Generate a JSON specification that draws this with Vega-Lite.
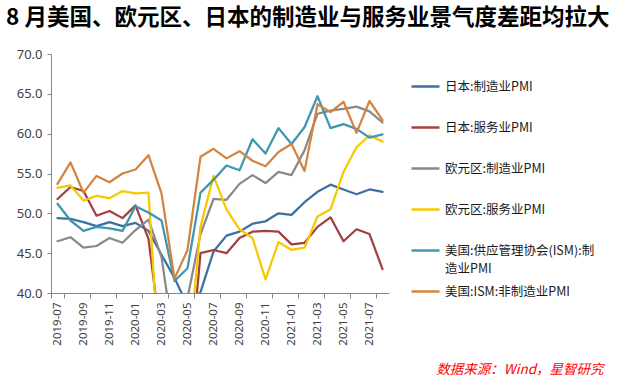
{
  "$schema": "https://vega.github.io/schema/vega-lite/v6.json",
  "width": 338,
  "height": 239,
  "autosize": {"type": "none"},
  "padding": {"left": 51, "top": 54, "right": 228, "bottom": 88},
  "background": "white",
  "title": {
    "text": "8 月美国、欧元区、日本的制造业与服务业景气度差距均拉大",
    "anchor": "start",
    "frame": "group",
    "dx": -45,
    "offset": 19,
    "font": "Noto Sans CJK SC",
    "fontSize": 22.5,
    "fontWeight": "bold",
    "color": "#000000"
  },
  "config": {"view": {"stroke": null}, "font": "Noto Sans CJK SC"},
  "data": {
    "values": [
      {"month": "2019-07", "series": "日本:制造业PMI", "value": 49.4},
      {"month": "2019-08", "series": "日本:制造业PMI", "value": 49.3},
      {"month": "2019-09", "series": "日本:制造业PMI", "value": 48.9},
      {"month": "2019-10", "series": "日本:制造业PMI", "value": 48.4},
      {"month": "2019-11", "series": "日本:制造业PMI", "value": 48.9},
      {"month": "2019-12", "series": "日本:制造业PMI", "value": 48.4},
      {"month": "2020-01", "series": "日本:制造业PMI", "value": 48.8},
      {"month": "2020-02", "series": "日本:制造业PMI", "value": 47.8},
      {"month": "2020-03", "series": "日本:制造业PMI", "value": 44.8},
      {"month": "2020-04", "series": "日本:制造业PMI", "value": 41.9},
      {"month": "2020-05", "series": "日本:制造业PMI", "value": 38.4},
      {"month": "2020-06", "series": "日本:制造业PMI", "value": 40.1},
      {"month": "2020-07", "series": "日本:制造业PMI", "value": 45.2},
      {"month": "2020-08", "series": "日本:制造业PMI", "value": 47.2},
      {"month": "2020-09", "series": "日本:制造业PMI", "value": 47.7},
      {"month": "2020-10", "series": "日本:制造业PMI", "value": 48.7},
      {"month": "2020-11", "series": "日本:制造业PMI", "value": 49.0},
      {"month": "2020-12", "series": "日本:制造业PMI", "value": 50.0},
      {"month": "2021-01", "series": "日本:制造业PMI", "value": 49.8},
      {"month": "2021-02", "series": "日本:制造业PMI", "value": 51.4},
      {"month": "2021-03", "series": "日本:制造业PMI", "value": 52.7},
      {"month": "2021-04", "series": "日本:制造业PMI", "value": 53.6},
      {"month": "2021-05", "series": "日本:制造业PMI", "value": 53.0},
      {"month": "2021-06", "series": "日本:制造业PMI", "value": 52.4},
      {"month": "2021-07", "series": "日本:制造业PMI", "value": 53.0},
      {"month": "2021-08", "series": "日本:制造业PMI", "value": 52.7},

      {"month": "2019-07", "series": "日本:服务业PMI", "value": 51.8},
      {"month": "2019-08", "series": "日本:服务业PMI", "value": 53.3},
      {"month": "2019-09", "series": "日本:服务业PMI", "value": 52.8},
      {"month": "2019-10", "series": "日本:服务业PMI", "value": 49.7},
      {"month": "2019-11", "series": "日本:服务业PMI", "value": 50.3},
      {"month": "2019-12", "series": "日本:服务业PMI", "value": 49.4},
      {"month": "2020-01", "series": "日本:服务业PMI", "value": 51.0},
      {"month": "2020-02", "series": "日本:服务业PMI", "value": 46.8},
      {"month": "2020-03", "series": "日本:服务业PMI", "value": 33.8},
      {"month": "2020-04", "series": "日本:服务业PMI", "value": 21.5},
      {"month": "2020-05", "series": "日本:服务业PMI", "value": 26.5},
      {"month": "2020-06", "series": "日本:服务业PMI", "value": 45.0},
      {"month": "2020-07", "series": "日本:服务业PMI", "value": 45.4},
      {"month": "2020-08", "series": "日本:服务业PMI", "value": 45.0},
      {"month": "2020-09", "series": "日本:服务业PMI", "value": 46.9},
      {"month": "2020-10", "series": "日本:服务业PMI", "value": 47.7},
      {"month": "2020-11", "series": "日本:服务业PMI", "value": 47.8},
      {"month": "2020-12", "series": "日本:服务业PMI", "value": 47.7},
      {"month": "2021-01", "series": "日本:服务业PMI", "value": 46.1},
      {"month": "2021-02", "series": "日本:服务业PMI", "value": 46.3},
      {"month": "2021-03", "series": "日本:服务业PMI", "value": 48.3},
      {"month": "2021-04", "series": "日本:服务业PMI", "value": 49.5},
      {"month": "2021-05", "series": "日本:服务业PMI", "value": 46.5},
      {"month": "2021-06", "series": "日本:服务业PMI", "value": 48.0},
      {"month": "2021-07", "series": "日本:服务业PMI", "value": 47.4},
      {"month": "2021-08", "series": "日本:服务业PMI", "value": 43.0},

      {"month": "2019-07", "series": "欧元区:制造业PMI", "value": 46.5},
      {"month": "2019-08", "series": "欧元区:制造业PMI", "value": 47.0},
      {"month": "2019-09", "series": "欧元区:制造业PMI", "value": 45.7},
      {"month": "2019-10", "series": "欧元区:制造业PMI", "value": 45.9},
      {"month": "2019-11", "series": "欧元区:制造业PMI", "value": 46.9},
      {"month": "2019-12", "series": "欧元区:制造业PMI", "value": 46.3},
      {"month": "2020-01", "series": "欧元区:制造业PMI", "value": 47.9},
      {"month": "2020-02", "series": "欧元区:制造业PMI", "value": 49.2},
      {"month": "2020-03", "series": "欧元区:制造业PMI", "value": 44.5},
      {"month": "2020-04", "series": "欧元区:制造业PMI", "value": 33.4},
      {"month": "2020-05", "series": "欧元区:制造业PMI", "value": 39.4},
      {"month": "2020-06", "series": "欧元区:制造业PMI", "value": 47.4},
      {"month": "2020-07", "series": "欧元区:制造业PMI", "value": 51.8},
      {"month": "2020-08", "series": "欧元区:制造业PMI", "value": 51.7},
      {"month": "2020-09", "series": "欧元区:制造业PMI", "value": 53.7},
      {"month": "2020-10", "series": "欧元区:制造业PMI", "value": 54.8},
      {"month": "2020-11", "series": "欧元区:制造业PMI", "value": 53.8},
      {"month": "2020-12", "series": "欧元区:制造业PMI", "value": 55.2},
      {"month": "2021-01", "series": "欧元区:制造业PMI", "value": 54.8},
      {"month": "2021-02", "series": "欧元区:制造业PMI", "value": 57.9},
      {"month": "2021-03", "series": "欧元区:制造业PMI", "value": 62.5},
      {"month": "2021-04", "series": "欧元区:制造业PMI", "value": 62.9},
      {"month": "2021-05", "series": "欧元区:制造业PMI", "value": 63.1},
      {"month": "2021-06", "series": "欧元区:制造业PMI", "value": 63.4},
      {"month": "2021-07", "series": "欧元区:制造业PMI", "value": 62.8},
      {"month": "2021-08", "series": "欧元区:制造业PMI", "value": 61.4},

      {"month": "2019-07", "series": "欧元区:服务业PMI", "value": 53.2},
      {"month": "2019-08", "series": "欧元区:服务业PMI", "value": 53.5},
      {"month": "2019-09", "series": "欧元区:服务业PMI", "value": 51.6},
      {"month": "2019-10", "series": "欧元区:服务业PMI", "value": 52.2},
      {"month": "2019-11", "series": "欧元区:服务业PMI", "value": 51.9},
      {"month": "2019-12", "series": "欧元区:服务业PMI", "value": 52.8},
      {"month": "2020-01", "series": "欧元区:服务业PMI", "value": 52.5},
      {"month": "2020-02", "series": "欧元区:服务业PMI", "value": 52.6},
      {"month": "2020-03", "series": "欧元区:服务业PMI", "value": 26.4},
      {"month": "2020-04", "series": "欧元区:服务业PMI", "value": 12.0},
      {"month": "2020-05", "series": "欧元区:服务业PMI", "value": 30.5},
      {"month": "2020-06", "series": "欧元区:服务业PMI", "value": 48.3},
      {"month": "2020-07", "series": "欧元区:服务业PMI", "value": 54.7},
      {"month": "2020-08", "series": "欧元区:服务业PMI", "value": 50.5},
      {"month": "2020-09", "series": "欧元区:服务业PMI", "value": 48.0},
      {"month": "2020-10", "series": "欧元区:服务业PMI", "value": 46.9},
      {"month": "2020-11", "series": "欧元区:服务业PMI", "value": 41.7},
      {"month": "2020-12", "series": "欧元区:服务业PMI", "value": 46.4},
      {"month": "2021-01", "series": "欧元区:服务业PMI", "value": 45.4},
      {"month": "2021-02", "series": "欧元区:服务业PMI", "value": 45.7},
      {"month": "2021-03", "series": "欧元区:服务业PMI", "value": 49.6},
      {"month": "2021-04", "series": "欧元区:服务业PMI", "value": 50.5},
      {"month": "2021-05", "series": "欧元区:服务业PMI", "value": 55.2},
      {"month": "2021-06", "series": "欧元区:服务业PMI", "value": 58.3},
      {"month": "2021-07", "series": "欧元区:服务业PMI", "value": 59.8},
      {"month": "2021-08", "series": "欧元区:服务业PMI", "value": 59.0},

      {"month": "2019-07", "series": "美国:供应管理协会(ISM):制造业PMI", "value": 51.2},
      {"month": "2019-08", "series": "美国:供应管理协会(ISM):制造业PMI", "value": 49.1},
      {"month": "2019-09", "series": "美国:供应管理协会(ISM):制造业PMI", "value": 47.8},
      {"month": "2019-10", "series": "美国:供应管理协会(ISM):制造业PMI", "value": 48.3},
      {"month": "2019-11", "series": "美国:供应管理协会(ISM):制造业PMI", "value": 48.1},
      {"month": "2019-12", "series": "美国:供应管理协会(ISM):制造业PMI", "value": 47.8},
      {"month": "2020-01", "series": "美国:供应管理协会(ISM):制造业PMI", "value": 50.9},
      {"month": "2020-02", "series": "美国:供应管理协会(ISM):制造业PMI", "value": 50.1},
      {"month": "2020-03", "series": "美国:供应管理协会(ISM):制造业PMI", "value": 49.1},
      {"month": "2020-04", "series": "美国:供应管理协会(ISM):制造业PMI", "value": 41.5},
      {"month": "2020-05", "series": "美国:供应管理协会(ISM):制造业PMI", "value": 43.1},
      {"month": "2020-06", "series": "美国:供应管理协会(ISM):制造业PMI", "value": 52.6},
      {"month": "2020-07", "series": "美国:供应管理协会(ISM):制造业PMI", "value": 54.2},
      {"month": "2020-08", "series": "美国:供应管理协会(ISM):制造业PMI", "value": 56.0},
      {"month": "2020-09", "series": "美国:供应管理协会(ISM):制造业PMI", "value": 55.4},
      {"month": "2020-10", "series": "美国:供应管理协会(ISM):制造业PMI", "value": 59.3},
      {"month": "2020-11", "series": "美国:供应管理协会(ISM):制造业PMI", "value": 57.5},
      {"month": "2020-12", "series": "美国:供应管理协会(ISM):制造业PMI", "value": 60.7},
      {"month": "2021-01", "series": "美国:供应管理协会(ISM):制造业PMI", "value": 58.7},
      {"month": "2021-02", "series": "美国:供应管理协会(ISM):制造业PMI", "value": 60.8},
      {"month": "2021-03", "series": "美国:供应管理协会(ISM):制造业PMI", "value": 64.7},
      {"month": "2021-04", "series": "美国:供应管理协会(ISM):制造业PMI", "value": 60.7},
      {"month": "2021-05", "series": "美国:供应管理协会(ISM):制造业PMI", "value": 61.2},
      {"month": "2021-06", "series": "美国:供应管理协会(ISM):制造业PMI", "value": 60.6},
      {"month": "2021-07", "series": "美国:供应管理协会(ISM):制造业PMI", "value": 59.5},
      {"month": "2021-08", "series": "美国:供应管理协会(ISM):制造业PMI", "value": 59.9},

      {"month": "2019-07", "series": "美国:ISM:非制造业PMI", "value": 53.7},
      {"month": "2019-08", "series": "美国:ISM:非制造业PMI", "value": 56.4},
      {"month": "2019-09", "series": "美国:ISM:非制造业PMI", "value": 52.6},
      {"month": "2019-10", "series": "美国:ISM:非制造业PMI", "value": 54.7},
      {"month": "2019-11", "series": "美国:ISM:非制造业PMI", "value": 53.9},
      {"month": "2019-12", "series": "美国:ISM:非制造业PMI", "value": 55.0},
      {"month": "2020-01", "series": "美国:ISM:非制造业PMI", "value": 55.5},
      {"month": "2020-02", "series": "美国:ISM:非制造业PMI", "value": 57.3},
      {"month": "2020-03", "series": "美国:ISM:非制造业PMI", "value": 52.5},
      {"month": "2020-04", "series": "美国:ISM:非制造业PMI", "value": 41.8},
      {"month": "2020-05", "series": "美国:ISM:非制造业PMI", "value": 45.4},
      {"month": "2020-06", "series": "美国:ISM:非制造业PMI", "value": 57.1},
      {"month": "2020-07", "series": "美国:ISM:非制造业PMI", "value": 58.1},
      {"month": "2020-08", "series": "美国:ISM:非制造业PMI", "value": 56.9},
      {"month": "2020-09", "series": "美国:ISM:非制造业PMI", "value": 57.8},
      {"month": "2020-10", "series": "美国:ISM:非制造业PMI", "value": 56.6},
      {"month": "2020-11", "series": "美国:ISM:非制造业PMI", "value": 55.9},
      {"month": "2020-12", "series": "美国:ISM:非制造业PMI", "value": 57.7},
      {"month": "2021-01", "series": "美国:ISM:非制造业PMI", "value": 58.7},
      {"month": "2021-02", "series": "美国:ISM:非制造业PMI", "value": 55.3},
      {"month": "2021-03", "series": "美国:ISM:非制造业PMI", "value": 63.7},
      {"month": "2021-04", "series": "美国:ISM:非制造业PMI", "value": 62.7},
      {"month": "2021-05", "series": "美国:ISM:非制造业PMI", "value": 64.0},
      {"month": "2021-06", "series": "美国:ISM:非制造业PMI", "value": 60.1},
      {"month": "2021-07", "series": "美国:ISM:非制造业PMI", "value": 64.1},
      {"month": "2021-08", "series": "美国:ISM:非制造业PMI", "value": 61.7}
    ]
  },
  "mark": {"type": "line", "strokeWidth": 2.25, "clip": true, "strokeJoin": "round", "strokeCap": "round"},
  "encoding": {
    "x": {
      "field": "month",
      "type": "ordinal",
      "bandPosition": 0.5,
      "scale": {"type": "band", "paddingInner": 0, "paddingOuter": 0},
      "axis": {
        "values": ["2019-07", "2019-09", "2019-11", "2020-01", "2020-03", "2020-05", "2020-07", "2020-09", "2020-11", "2021-01", "2021-03", "2021-05", "2021-07"],
        "tickBand": "extent",
        "labelAngle": -90,
        "labelFont": "Noto Sans",
        "labelFontSize": 11.5,
        "labelColor": "#404040",
        "labelPadding": 4,
        "domainColor": "#868686",
        "tickColor": "#868686",
        "tickSize": 5,
        "grid": false,
        "title": "数据来源：Wind，星智研究",
        "titleFont": "Noto Sans CJK SC",
        "titleFontSize": 13.5,
        "titleFontStyle": "italic",
        "titleFontWeight": "normal",
        "titleColor": "#FF0000",
        "titleAlign": "right",
        "titleAnchor": "end",
        "titleBaseline": "middle",
        "titleX": 552,
        "titleY": 76
      }
    },
    "y": {
      "field": "value",
      "type": "quantitative",
      "scale": {"domain": [40, 70], "nice": false, "zero": false},
      "axis": {
        "values": [40, 45, 50, 55, 60, 65, 70],
        "format": ".1f",
        "title": null,
        "labelFont": "Noto Sans",
        "labelFontSize": 13,
        "labelColor": "#404040",
        "labelPadding": 5,
        "domainColor": "#868686",
        "tickColor": "#868686",
        "tickSize": 4,
        "grid": false
      }
    },
    "color": {
      "field": "series",
      "type": "nominal",
      "scale": {
        "domain": ["日本:制造业PMI", "日本:服务业PMI", "欧元区:制造业PMI", "欧元区:服务业PMI", "美国:供应管理协会(ISM):制造业PMI", "美国:ISM:非制造业PMI"],
        "range": ["#3D6FA3", "#A2403F", "#898989", "#F6C800", "#3E97AE", "#D4843E"]
      },
      "legend": {
        "title": null,
        "orient": "none",
        "legendX": 359,
        "legendY": 17,
        "padding": 0,
        "symbolType": "stroke",
        "symbolStrokeWidth": 2.5,
        "symbolSize": 784,
        "labelFont": "Noto Sans CJK SC",
        "labelFontSize": 12.5,
        "labelColor": "#1a1a1a",
        "labelOffset": 4,
        "labelLimit": 220,
        "rowPadding": 1,
        "labelExpr": "datum.label == '美国:供应管理协会(ISM):制造业PMI' ? ['美国:供应管理协会(ISM):制', '造业PMI'] : [datum.label, ' ']",
        "encode": {"labels": {"update": {"lineHeight": {"value": 18}}}}
      }
    }
  }
}
